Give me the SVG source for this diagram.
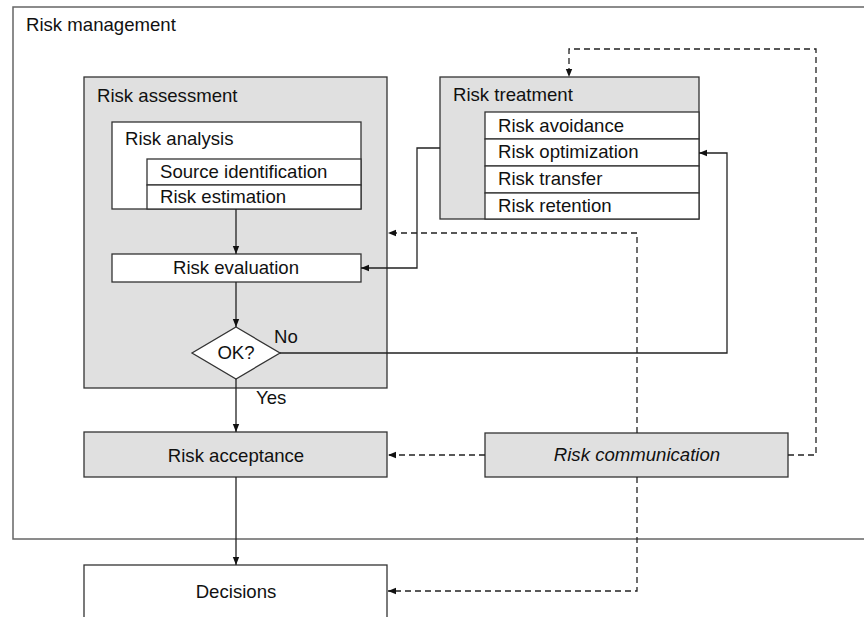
<svg xmlns="http://www.w3.org/2000/svg" width="864" height="617" viewBox="0 0 864 617">
<defs>
<marker id="ah" viewBox="0 0 10 10" refX="10" refY="5" markerWidth="8" markerHeight="8" markerUnits="userSpaceOnUse" orient="auto">
<path d="M0,1 L10,5 L0,9 Z" fill="#111"/>
</marker>
<style>
text{font-family:"Liberation Sans",Arial,sans-serif;font-size:18.6px;fill:#111}
.c{text-anchor:middle}
.g{fill:#e0e0e0;stroke:#333;stroke-width:1.3}
.w{fill:#fff;stroke:#333;stroke-width:1.3}
.ln{fill:none;stroke:#222;stroke-width:1.3}
.d{fill:none;stroke:#222;stroke-width:1.3;stroke-dasharray:6,4}
</style>
</defs>
<rect width="864" height="617" fill="#fff"/>
<g id="risk-management">
<rect x="13" y="7" width="860" height="532" fill="#fff" stroke="#666" stroke-width="1.5"/>
<text x="26" y="31">Risk management</text>
</g>
<g id="risk-assessment">
<rect class="g" x="84" y="77" width="303" height="311"/>
<text x="97" y="102">Risk assessment</text>
</g>
<g id="risk-analysis">
<rect class="w" x="112" y="122" width="249" height="87"/>
<text x="125" y="145">Risk analysis</text>
<rect class="w" x="147" y="159" width="214" height="26"/>
<text x="160" y="178">Source identification</text>
<rect class="w" x="147" y="185" width="214" height="24"/>
<text x="160" y="203">Risk estimation</text>
</g>
<g id="risk-evaluation">
<rect class="w" x="112" y="254" width="249" height="28"/>
<text class="c" x="236" y="274">Risk evaluation</text>
</g>
<g id="ok">
<polygon class="w" points="236,327 280,353 236,379 192,353"/>
<text class="c" x="236" y="359">OK?</text>
</g>
<g id="risk-treatment">
<rect class="g" x="440" y="77" width="259" height="142"/>
<text x="453" y="101">Risk treatment</text>
<rect class="w" x="485" y="112" width="214" height="27"/>
<text x="498" y="132">Risk avoidance</text>
<rect class="w" x="485" y="139" width="214" height="27"/>
<text x="498" y="158">Risk optimization</text>
<rect class="w" x="485" y="166" width="214" height="27"/>
<text x="498" y="185">Risk transfer</text>
<rect class="w" x="485" y="193" width="214" height="26"/>
<text x="498" y="212">Risk retention</text>
</g>
<g id="risk-acceptance">
<rect class="g" x="84" y="432" width="303" height="45"/>
<text class="c" x="236" y="462">Risk acceptance</text>
</g>
<g id="risk-communication">
<rect class="g" x="485" y="433" width="303" height="44"/>
<text class="c" x="637" y="461" font-style="italic">Risk communication</text>
</g>
<g id="decisions">
<rect class="w" x="84" y="565" width="303" height="60"/>
<text class="c" x="236" y="598">Decisions</text>
</g>
<g id="connectors">
<line class="ln" x1="236" y1="209" x2="236" y2="254" marker-end="url(#ah)"/>
<line class="ln" x1="236" y1="282" x2="236" y2="327" marker-end="url(#ah)"/>
<line class="ln" x1="236" y1="379" x2="236" y2="432" marker-end="url(#ah)"/>
<line class="ln" x1="236" y1="477" x2="236" y2="565" marker-end="url(#ah)"/>
<polyline class="ln" points="440,148 417,148 417,268 361,268" marker-end="url(#ah)"/>
<polyline class="ln" points="280,353 727,353 727,153 699,153" marker-end="url(#ah)"/>
<text x="274" y="343">No</text>
<text x="256" y="404">Yes</text>
<polyline class="d" points="637,433 637,233 388,233" marker-end="url(#ah)"/>
<line class="d" x1="485" y1="455" x2="388" y2="455" marker-end="url(#ah)"/>
<polyline class="d" points="637,477 637,591 388,591" marker-end="url(#ah)"/>
<polyline class="d" points="788,455 816,455 816,49 569,49 569,77" marker-end="url(#ah)"/>
</g>
</svg>
